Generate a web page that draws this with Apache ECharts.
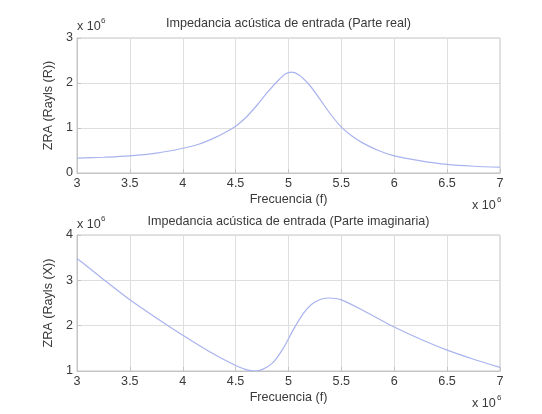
<!DOCTYPE html>
<html>
<head>
<meta charset="utf-8">
<script src="https://cdn.jsdelivr.net/npm/echarts@6/dist/echarts.min.js"></script>
<style>html,body{margin:0;padding:0;background:#fff}#c{width:542px;height:414px}</style>
</head>
<body>
<div id="c"></div>
<script>
// Frequency in units of 1e6 Hz, impedance in units of 1e6 Rayls
var freqReal = [3.0,3.25,3.5,3.75,4.0,4.15,4.3,4.4,4.5,4.6,4.7,4.8,4.9,4.97,5.03,5.1,5.2,5.3,5.4,5.5,5.6,5.7,5.85,6.0,6.25,6.5,6.75,7.0];
var zraReal  = [0.33,0.35,0.38,0.44,0.55,0.64,0.78,0.9,1.04,1.24,1.5,1.79,2.05,2.2,2.24,2.18,1.95,1.63,1.3,1.02,0.82,0.67,0.5,0.38,0.27,0.19,0.15,0.13];
var freqImag = [3.0,3.1,3.25,3.5,3.75,4.0,4.25,4.5,4.6,4.68,4.75,4.85,4.95,5.05,5.15,5.25,5.38,5.5,5.75,6.0,6.25,6.5,6.75,7.0];
var zraImag  = [3.48,3.3,3.02,2.57,2.17,1.79,1.43,1.12,1.03,1.0,1.03,1.18,1.5,1.93,2.3,2.52,2.61,2.57,2.28,1.97,1.7,1.46,1.26,1.08];
var titles = ['Impedancia acústica de entrada (Parte real)', 'Impedancia acústica de entrada (Parte imaginaria)'];
var yNames = ['ZRA (Rayls (R))', 'ZRA (Rayls (X))'];
var xName = 'Frecuencia (f)';

var FONT = 'Liberation Sans, Arial, sans-serif';
var FS = 12.6;
var TXT = '#3a3a3a';
var LINE = '#a9b3ee';

function zip(a, b) { return a.map(function (v, i) { return [v, b[i]]; }); }

function xAx(gi) {
  return {
    type: 'value', gridIndex: gi, min: 3, max: 7, interval: 0.5,
    name: xName, nameLocation: 'middle', nameGap: 20,
    nameTextStyle: { color: TXT, fontSize: FS, fontFamily: FONT },
    axisLine: { show: true, lineStyle: { color: '#c4c4c4' } },
    axisTick: { show: true, inside: true, length: 4, lineStyle: { color: '#c4c4c4' } },
    axisLabel: { color: TXT, fontSize: FS, fontFamily: FONT, margin: 4 },
    splitLine: { show: true, lineStyle: { color: '#dedede' } }
  };
}
function yAx(gi, mn, mx, nm) {
  return {
    type: 'value', gridIndex: gi, min: mn, max: mx, interval: 1,
    name: nm, nameLocation: 'middle', nameGap: 13, nameRotate: 90,
    nameTextStyle: { color: TXT, fontSize: FS, fontFamily: FONT },
    axisLine: { show: true, lineStyle: { color: '#c4c4c4' } },
    axisTick: { show: true, inside: true, length: 4, lineStyle: { color: '#c4c4c4' } },
    axisLabel: { color: TXT, fontSize: FS, fontFamily: FONT, margin: 4 },
    splitLine: { show: true, lineStyle: { color: '#dedede' } }
  };
}
function txt(x, y, s, size, align) {
  return { type: 'text', x: x, y: y, style: { text: s, fill: TXT, font: size + 'px ' + FONT, align: align || 'left', verticalAlign: 'middle' } };
}

var chart = echarts.init(document.getElementById('c'));
chart.setOption({
  animation: false,
  grid: [
    { left: 77, top: 38, width: 423, height: 135, show: true, borderColor: '#c4c4c4', borderWidth: 1, backgroundColor: '#fff' },
    { left: 77, top: 235, width: 423, height: 136, show: true, borderColor: '#c4c4c4', borderWidth: 1, backgroundColor: '#fff' }
  ],
  xAxis: [xAx(0), xAx(1)],
  yAxis: [yAx(0, 0, 3, yNames[0]), yAx(1, 1, 4, yNames[1])],
  series: [
    { type: 'line', xAxisIndex: 0, yAxisIndex: 0, data: zip(freqReal, zraReal), showSymbol: false, smooth: 0.3, lineStyle: { color: LINE, width: 1.2 } },
    { type: 'line', xAxisIndex: 1, yAxisIndex: 1, data: zip(freqImag, zraImag), showSymbol: false, smooth: 0.3, lineStyle: { color: LINE, width: 1.2 } }
  ],
  graphic: [
    txt(288.5, 24, titles[0], FS, 'center'),
    txt(288.5, 222, titles[1], FS, 'center'),
    txt(77, 27, 'x 10', FS), txt(101, 21, '6', 8),
    txt(472, 206, 'x 10', FS), txt(497, 200, '6', 8),
    txt(77, 225, 'x 10', FS), txt(101, 219, '6', 8),
    txt(472, 404, 'x 10', FS), txt(497, 398, '6', 8)
  ]
});
</script>
</body>
</html>
